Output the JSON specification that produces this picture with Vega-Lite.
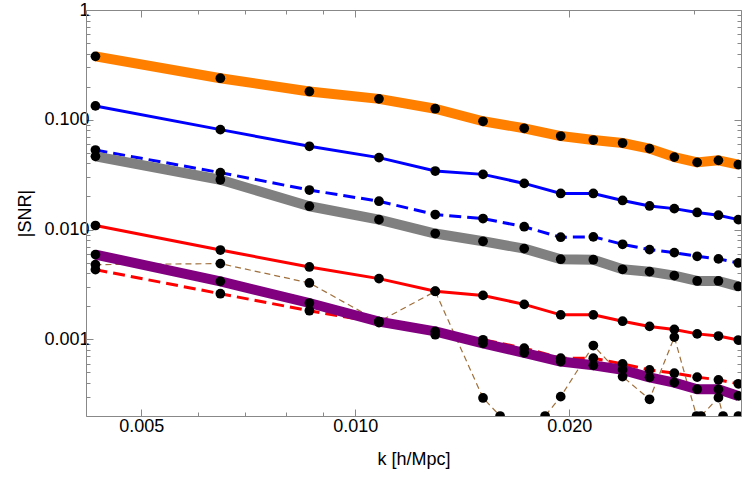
{
  "$schema": "https://vega.github.io/schema/vega-lite/v6.json",
  "width": 655,
  "height": 406,
  "autosize": "none",
  "padding": {"left": 86, "top": 10, "right": 9, "bottom": 64},
  "config": {
    "view": {"stroke": null},
    "font": "Liberation Sans",
    "axis": {
      "grid": false,
      "domainColor": "#888888",
      "tickColor": "#888888",
      "labelColor": "#000000",
      "titleColor": "#000000",
      "labelFont": "Liberation Sans",
      "titleFont": "Liberation Sans",
      "labelFontSize": 18,
      "titleFontSize": 18,
      "titleFontWeight": "normal",
      "labelFlush": false,
      "labelOverlap": false,
      "labelBound": false
    }
  },
  "datasets": {
    "d": [
      {"s": "A", "k": 0.00431, "v": 0.378}, {"s": "A", "k": 0.00646, "v": 0.239}, {"s": "A", "k": 0.00862, "v": 0.181}, {"s": "A", "k": 0.0108, "v": 0.155}, {"s": "A", "k": 0.01296, "v": 0.126}, {"s": "A", "k": 0.01513, "v": 0.0969}, {"s": "A", "k": 0.01729, "v": 0.0836}, {"s": "A", "k": 0.01946, "v": 0.0711}, {"s": "A", "k": 0.02163, "v": 0.0654}, {"s": "A", "k": 0.02378, "v": 0.0614}, {"s": "A", "k": 0.02595, "v": 0.0546}, {"s": "A", "k": 0.02812, "v": 0.0457}, {"s": "A", "k": 0.03028, "v": 0.0409}, {"s": "A", "k": 0.03244, "v": 0.0427}, {"s": "A", "k": 0.0346, "v": 0.039},
      {"s": "B", "k": 0.00431, "v": 0.1337}, {"s": "B", "k": 0.00646, "v": 0.0813}, {"s": "B", "k": 0.00862, "v": 0.0573}, {"s": "B", "k": 0.0108, "v": 0.0452}, {"s": "B", "k": 0.01296, "v": 0.0341}, {"s": "B", "k": 0.01513, "v": 0.0318}, {"s": "B", "k": 0.01729, "v": 0.0263}, {"s": "B", "k": 0.01946, "v": 0.0213}, {"s": "B", "k": 0.02163, "v": 0.0213}, {"s": "B", "k": 0.02378, "v": 0.0184}, {"s": "B", "k": 0.02595, "v": 0.0164}, {"s": "B", "k": 0.02812, "v": 0.0155}, {"s": "B", "k": 0.03028, "v": 0.0143}, {"s": "B", "k": 0.03244, "v": 0.0135}, {"s": "B", "k": 0.0346, "v": 0.0123},
      {"s": "C", "k": 0.00431, "v": 0.053}, {"s": "C", "k": 0.00646, "v": 0.033}, {"s": "C", "k": 0.00862, "v": 0.0229}, {"s": "C", "k": 0.0108, "v": 0.0181}, {"s": "C", "k": 0.01296, "v": 0.0137}, {"s": "C", "k": 0.01513, "v": 0.0126}, {"s": "C", "k": 0.01729, "v": 0.0106}, {"s": "C", "k": 0.01946, "v": 0.00851}, {"s": "C", "k": 0.02163, "v": 0.00858}, {"s": "C", "k": 0.02378, "v": 0.00734}, {"s": "C", "k": 0.02595, "v": 0.00656}, {"s": "C", "k": 0.02812, "v": 0.00616}, {"s": "C", "k": 0.03028, "v": 0.0057}, {"s": "C", "k": 0.03244, "v": 0.0054}, {"s": "C", "k": 0.0346, "v": 0.00496},
      {"s": "D", "k": 0.00431, "v": 0.0464}, {"s": "D", "k": 0.00646, "v": 0.0284}, {"s": "D", "k": 0.00862, "v": 0.0163}, {"s": "D", "k": 0.0108, "v": 0.0123}, {"s": "D", "k": 0.01296, "v": 0.00919}, {"s": "D", "k": 0.01513, "v": 0.00781}, {"s": "D", "k": 0.01729, "v": 0.0067}, {"s": "D", "k": 0.01946, "v": 0.00536}, {"s": "D", "k": 0.02163, "v": 0.00531}, {"s": "D", "k": 0.02378, "v": 0.00434}, {"s": "D", "k": 0.02595, "v": 0.00413}, {"s": "D", "k": 0.02812, "v": 0.0038}, {"s": "D", "k": 0.03028, "v": 0.0034}, {"s": "D", "k": 0.03244, "v": 0.0034}, {"s": "D", "k": 0.0346, "v": 0.00303},
      {"s": "E", "k": 0.00431, "v": 0.01088}, {"s": "E", "k": 0.00646, "v": 0.0065}, {"s": "E", "k": 0.00862, "v": 0.00456}, {"s": "E", "k": 0.0108, "v": 0.00357}, {"s": "E", "k": 0.01296, "v": 0.00274}, {"s": "E", "k": 0.01513, "v": 0.00251}, {"s": "E", "k": 0.01729, "v": 0.00208}, {"s": "E", "k": 0.01946, "v": 0.00167}, {"s": "E", "k": 0.02163, "v": 0.00167}, {"s": "E", "k": 0.02378, "v": 0.00146}, {"s": "E", "k": 0.02595, "v": 0.00131}, {"s": "E", "k": 0.02812, "v": 0.00123}, {"s": "E", "k": 0.03028, "v": 0.00112}, {"s": "E", "k": 0.03244, "v": 0.00107}, {"s": "E", "k": 0.0346, "v": 0.000984},
      {"s": "F", "k": 0.00431, "v": 0.00431}, {"s": "F", "k": 0.00646, "v": 0.0026}, {"s": "F", "k": 0.00862, "v": 0.00182}, {"s": "F", "k": 0.0108, "v": 0.00142}, {"s": "F", "k": 0.01296, "v": 0.0011}, {"s": "F", "k": 0.01513, "v": 0.000989}, {"s": "F", "k": 0.01729, "v": 0.000831}, {"s": "F", "k": 0.01946, "v": 0.000673}, {"s": "F", "k": 0.02163, "v": 0.000673}, {"s": "F", "k": 0.02378, "v": 0.000597}, {"s": "F", "k": 0.02595, "v": 0.000526}, {"s": "F", "k": 0.02812, "v": 0.000491}, {"s": "F", "k": 0.03028, "v": 0.000452}, {"s": "F", "k": 0.03244, "v": 0.000427}, {"s": "F", "k": 0.0346, "v": 0.000393},
      {"s": "G", "k": 0.00431, "v": 0.00591}, {"s": "G", "k": 0.00646, "v": 0.00337}, {"s": "G", "k": 0.00862, "v": 0.00214}, {"s": "G", "k": 0.0108, "v": 0.00145}, {"s": "G", "k": 0.01296, "v": 0.00118}, {"s": "G", "k": 0.01513, "v": 0.000918}, {"s": "G", "k": 0.01729, "v": 0.000753}, {"s": "G", "k": 0.01946, "v": 0.000627}, {"s": "G", "k": 0.02163, "v": 0.000579}, {"s": "G", "k": 0.02378, "v": 0.000527}, {"s": "G", "k": 0.02595, "v": 0.00045}, {"s": "G", "k": 0.02812, "v": 0.000403}, {"s": "G", "k": 0.03028, "v": 0.000351}, {"s": "G", "k": 0.03244, "v": 0.00035}, {"s": "G", "k": 0.0346, "v": 0.000305},
      {"s": "H", "k": 0.00431, "v": 0.00479}, {"s": "H", "k": 0.00646, "v": 0.00489}, {"s": "H", "k": 0.00862, "v": 0.00326}, {"s": "H", "k": 0.0108, "v": 0.00145}, {"s": "H", "k": 0.01296, "v": 0.00273}, {"s": "H", "k": 0.01513, "v": 0.000292}, {"s": "H", "k": 0.01599, "v": 0.0002}, {"s": "H", "k": 0.01729, "v": 0.000117}, {"s": "H", "k": 0.0185, "v": 0.0002}, {"s": "H", "k": 0.01946, "v": 0.0003}, {"s": "H", "k": 0.02163, "v": 0.000877}, {"s": "H", "k": 0.02378, "v": 0.000457}, {"s": "H", "k": 0.02595, "v": 0.000284}, {"s": "H", "k": 0.02812, "v": 0.001047}, {"s": "H", "k": 0.03022, "v": 0.0002}, {"s": "H", "k": 0.03028, "v": 0.000188}, {"s": "H", "k": 0.03066, "v": 0.0002}, {"s": "H", "k": 0.03244, "v": 0.000294}, {"s": "H", "k": 0.03293, "v": 0.0002}, {"s": "H", "k": 0.0346, "v": 0.0000431}, {"s": "H", "k": 0.03461, "v": 0.0002}
    ]
  },
  "data": {"name": "d"},
  "encoding": {
    "x": {"field": "k", "type": "quantitative", "scale": {"type": "log", "domain": [0.00418, 0.0349], "nice": false, "zero": false}, "axis": null},
    "y": {"field": "v", "type": "quantitative", "scale": {"type": "log", "domain": [0.0002, 1], "nice": false, "zero": false}, "axis": null}
  },
  "layer": [
    {
      "transform": [{"filter": "datum.s == 'A'"}],
      "mark": {"type": "line", "color": "#FF8000", "strokeWidth": 10, "strokeJoin": "round", "clip": true},
      "encoding": {
        "x": {"field": "k", "type": "quantitative", "scale": {"type": "log", "domain": [0.00418, 0.0349], "nice": false, "zero": false},
          "axis": {"orient": "bottom", "title": "k [h/Mpc]", "values": [0.005, 0.006, 0.007, 0.008, 0.009, 0.01, 0.02, 0.03],
            "labelExpr": "indexof([0.005, 0.01, 0.02], datum.value) >= 0 ? format(datum.value, '.3f') : ''",
            "tickSize": {"condition": {"test": "indexof([0.005, 0.01, 0.02], datum.value) >= 0", "value": -7}, "value": -4},
            "labelPadding": 8, "titlePadding": 12}},
        "y": {"field": "v", "type": "quantitative", "scale": {"type": "log", "domain": [0.0002, 1], "nice": false, "zero": false},
          "axis": {"orient": "left", "title": "|SNR|",
            "values": [0.0002, 0.0003, 0.0004, 0.0005, 0.0006, 0.0007, 0.0008, 0.0009, 0.001, 0.002, 0.003, 0.004, 0.005, 0.006, 0.007, 0.008, 0.009, 0.01, 0.02, 0.03, 0.04, 0.05, 0.06, 0.07, 0.08, 0.09, 0.1, 0.2, 0.3, 0.4, 0.5, 0.6, 0.7, 0.8, 0.9, 1],
            "labelExpr": "datum.value == 1 ? '1' : (indexof([0.001, 0.01, 0.1], datum.value) >= 0 ? format(datum.value, '.3f') : '')",
            "tickSize": {"condition": {"test": "indexof([0.001, 0.01, 0.1, 1], datum.value) >= 0", "value": -7}, "value": -4},
            "labelPadding": 4, "titlePadding": 9}}
      }
    },
    {"transform": [{"filter": "datum.s == 'B'"}], "mark": {"type": "line", "color": "#0000FF", "strokeWidth": 3, "clip": true}},
    {"transform": [{"filter": "datum.s == 'C'"}], "mark": {"type": "line", "color": "#0000FF", "strokeWidth": 3, "strokeDash": [12, 6], "clip": true}},
    {"transform": [{"filter": "datum.s == 'D'"}], "mark": {"type": "line", "color": "#808080", "strokeWidth": 10, "strokeJoin": "round", "clip": true}},
    {"transform": [{"filter": "datum.s == 'E'"}], "mark": {"type": "line", "color": "#FF0000", "strokeWidth": 3, "clip": true}},
    {"transform": [{"filter": "datum.s == 'F'"}], "mark": {"type": "line", "color": "#FF0000", "strokeWidth": 3, "strokeDash": [12, 6], "clip": true}},
    {"transform": [{"filter": "datum.s == 'H'"}], "mark": {"type": "line", "color": "#A0703C", "strokeWidth": 1.2, "strokeDash": [6, 4], "clip": true}},
    {"transform": [{"filter": "datum.s == 'G'"}], "mark": {"type": "line", "color": "#800080", "strokeWidth": 10, "strokeJoin": "round", "clip": true}},
    {
      "mark": {"type": "circle", "color": "#000000", "opacity": 1, "size": 95, "clip": true},
      "encoding": {
        "x": {"field": "k", "type": "quantitative", "scale": {"type": "log", "domain": [0.00418, 0.0349], "nice": false, "zero": false},
          "axis": {"orient": "top", "title": null, "labels": false, "values": [0.005, 0.006, 0.007, 0.008, 0.009, 0.01, 0.02, 0.03],
            "tickSize": {"condition": {"test": "indexof([0.005, 0.01, 0.02], datum.value) >= 0", "value": -7}, "value": -4}}},
        "y": {"field": "v", "type": "quantitative", "scale": {"type": "log", "domain": [0.0002, 1], "nice": false, "zero": false},
          "axis": {"orient": "right", "title": null, "labels": false,
            "values": [0.0002, 0.0003, 0.0004, 0.0005, 0.0006, 0.0007, 0.0008, 0.0009, 0.001, 0.002, 0.003, 0.004, 0.005, 0.006, 0.007, 0.008, 0.009, 0.01, 0.02, 0.03, 0.04, 0.05, 0.06, 0.07, 0.08, 0.09, 0.1, 0.2, 0.3, 0.4, 0.5, 0.6, 0.7, 0.8, 0.9, 1],
            "tickSize": {"condition": {"test": "indexof([0.001, 0.01, 0.1, 1], datum.value) >= 0", "value": -7}, "value": -4}}}
      }
    }
  ],
  "resolve": {"axis": {"x": "independent", "y": "independent"}}
}
